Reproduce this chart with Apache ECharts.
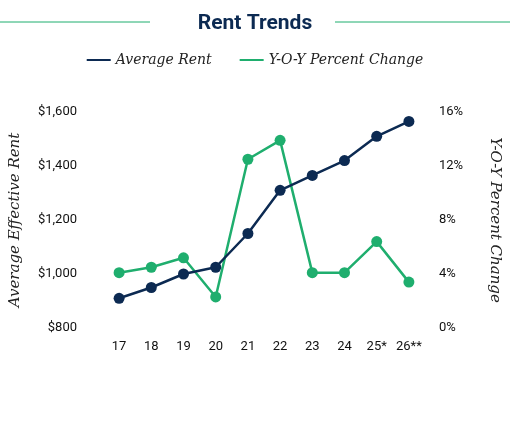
<!DOCTYPE html>
<html><head><meta charset="utf-8">
<script src="https://cdn.jsdelivr.net/npm/echarts@6/dist/echarts.min.js"></script>
<style>html,body{margin:0;background:#fff}#c{width:510px;height:435px}</style>
</head><body><div id="c"></div>
<script>
var years = ['17', '18', '19', '20', '21', '22', '23', '24', '25*', '26**'];
var avgRent = [910, 950, 1000, 1025, 1150, 1310, 1365, 1420, 1510, 1565];
var yoyChange = [4.1, 4.5, 5.2, 2.3, 12.5, 13.9, 4.1, 4.1, 6.4, 3.4];

var navy = '#0c2a52';
var green = '#1fae6e';
var chart = echarts.init(document.getElementById('c'));
chart.setOption({
    backgroundColor: '#fff',
    title: {
        text: 'Rent Trends', left: 'center', top: 8,
        textStyle: { color: navy, fontSize: 21, fontWeight: 'bold', fontFamily: 'Roboto' }
    },
    graphic: [
        { type: 'line', shape: { x1: 0, y1: 22, x2: 150, y2: 22 }, style: { stroke: green, lineWidth: 1 } },
        { type: 'line', shape: { x1: 335, y1: 22, x2: 510, y2: 22 }, style: { stroke: green, lineWidth: 1 } }
    ],
    legend: {
        top: 48, left: 'center', itemGap: 28, itemWidth: 24, itemHeight: 2,
        icon: 'rect',
        textStyle: { fontFamily: 'DejaVu Serif', fontStyle: 'italic', fontSize: 14, color: '#222' },
        data: ['Average Rent', 'Y-O-Y Percent Change']
    },
    grid: { left: 79, right: 78, top: 112, bottom: 107 },
    xAxis: {
        type: 'category', data: years,
        axisLine: { show: false }, axisTick: { show: false },
        axisLabel: { interval: 0, color: '#111', fontSize: 13, fontFamily: 'Roboto', margin: 12 }
    },
    yAxis: [{
        type: 'value', min: 800, max: 1600, interval: 200,
        name: 'Average Effective Rent', nameLocation: 'middle', nameGap: 80, nameRotate: 90,
        nameTextStyle: { fontFamily: 'DejaVu Serif', fontStyle: 'italic', fontSize: 15, color: '#222' },
        splitLine: { show: false },
        axisLabel: { color: '#111', fontSize: 13, fontFamily: 'Roboto', margin: 26,
            formatter: function (v) { return '$' + v.toLocaleString('en-US'); } }
    }, {
        type: 'value', min: 0, max: 16, interval: 4,
        name: 'Y-O-Y Percent Change', nameLocation: 'middle', nameGap: 62, nameRotate: -90,
        nameTextStyle: { fontFamily: 'DejaVu Serif', fontStyle: 'italic', fontSize: 15, color: '#222' },
        splitLine: { show: false },
        axisLabel: { color: '#111', fontSize: 13, fontFamily: 'Roboto', margin: 14, formatter: '{value}%' }
    }],
    series: [{
        name: 'Average Rent', type: 'line', data: avgRent, yAxisIndex: 0,
        symbol: 'circle', symbolSize: 11, color: navy,
        lineStyle: { width: 2.5, color: navy }, z: 3
    }, {
        name: 'Y-O-Y Percent Change', type: 'line', data: yoyChange, yAxisIndex: 1,
        symbol: 'circle', symbolSize: 11, color: green,
        lineStyle: { width: 2.5, color: green }, z: 2
    }]
});
</script></body></html>
